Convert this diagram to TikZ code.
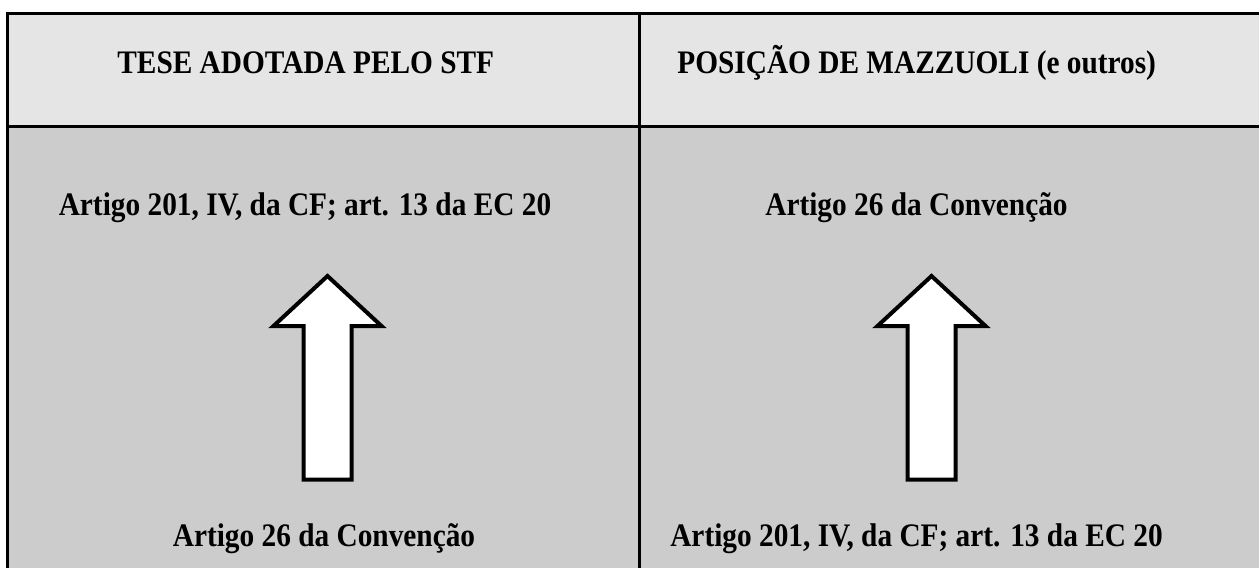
\documentclass[tikz,border=0pt]{standalone}
\usepackage{fontspec}
\setmainfont{Liberation Serif}
\usepackage{graphicx}
\usepackage{xcolor}
\usepackage{tikz}
\usetikzlibrary{positioning}
\definecolor{headgray}{gray}{0.90}
\definecolor{bodygray}{gray}{0.80}
\newcommand{\tallbf}[1]{\scalebox{1}[1.12]{#1}}
\tikzset{
    cell/.style={font=\bfseries\fontsize{22}{26}\selectfont, anchor=base, inner sep=0pt},
    rule/.style={draw=black, line width=2.25pt},
    bigarrow/.style={draw=black, fill=white, line width=3pt, line join=miter}
}

\begin{document}
\begin{tikzpicture}[x=0.75pt, y=-0.75pt]
        \useasboundingbox (0,0) rectangle (1259,568);
        % Backgrounds
        \fill[white] (0,0) rectangle (1259,568);
        \fill[headgray] (7.5,13.5) rectangle (1259,126.5);
        \fill[bodygray] (7.5,126.5) rectangle (1259,568);

        % Grid lines
        \draw[rule] (7.5,568) -- (7.5,13.5) -- (1259,13.5);
        \draw[rule] (7.5,126.5) -- (1259,126.5);
        \draw[rule] (639.5,13.5) -- (639.5,568);

        % Header
        \node[cell] (headSTF) at (305.8,73.3) {\tallbf{TESE ADOTADA PELO STF}};
        \node[cell] (headMaz) at (916.7,73.3) {\tallbf{POSIÇÃO DE MAZZUOLI (e outros)}};

        % Left column
        \node[cell] (topSTF) at (305,215) {\tallbf{Artigo 201, IV, da CF; art. 13 da EC 20}};
        \node[cell] (botSTF) at (324,546.5) {\tallbf{Artigo 26 da Convenção}};

        % Right column
        \node[cell] (topMaz) at (916.5,215) {\tallbf{Artigo 26 da Convenção}};
        \node[cell] (botMaz) at (916.5,546.5) {\tallbf{Artigo 201, IV, da CF; art. 13 da EC 20}};

        % Arrows
        \foreach \cx in {327.5, 931.5} {
            \draw[bigarrow] (\cx,276) -- (\cx+54,326) -- (\cx+24,326) -- (\cx+24,479.5)
                -- (\cx-24,479.5) -- (\cx-24,326) -- (\cx-54,326) -- cycle;
        }
    \end{tikzpicture}
\end{document}
